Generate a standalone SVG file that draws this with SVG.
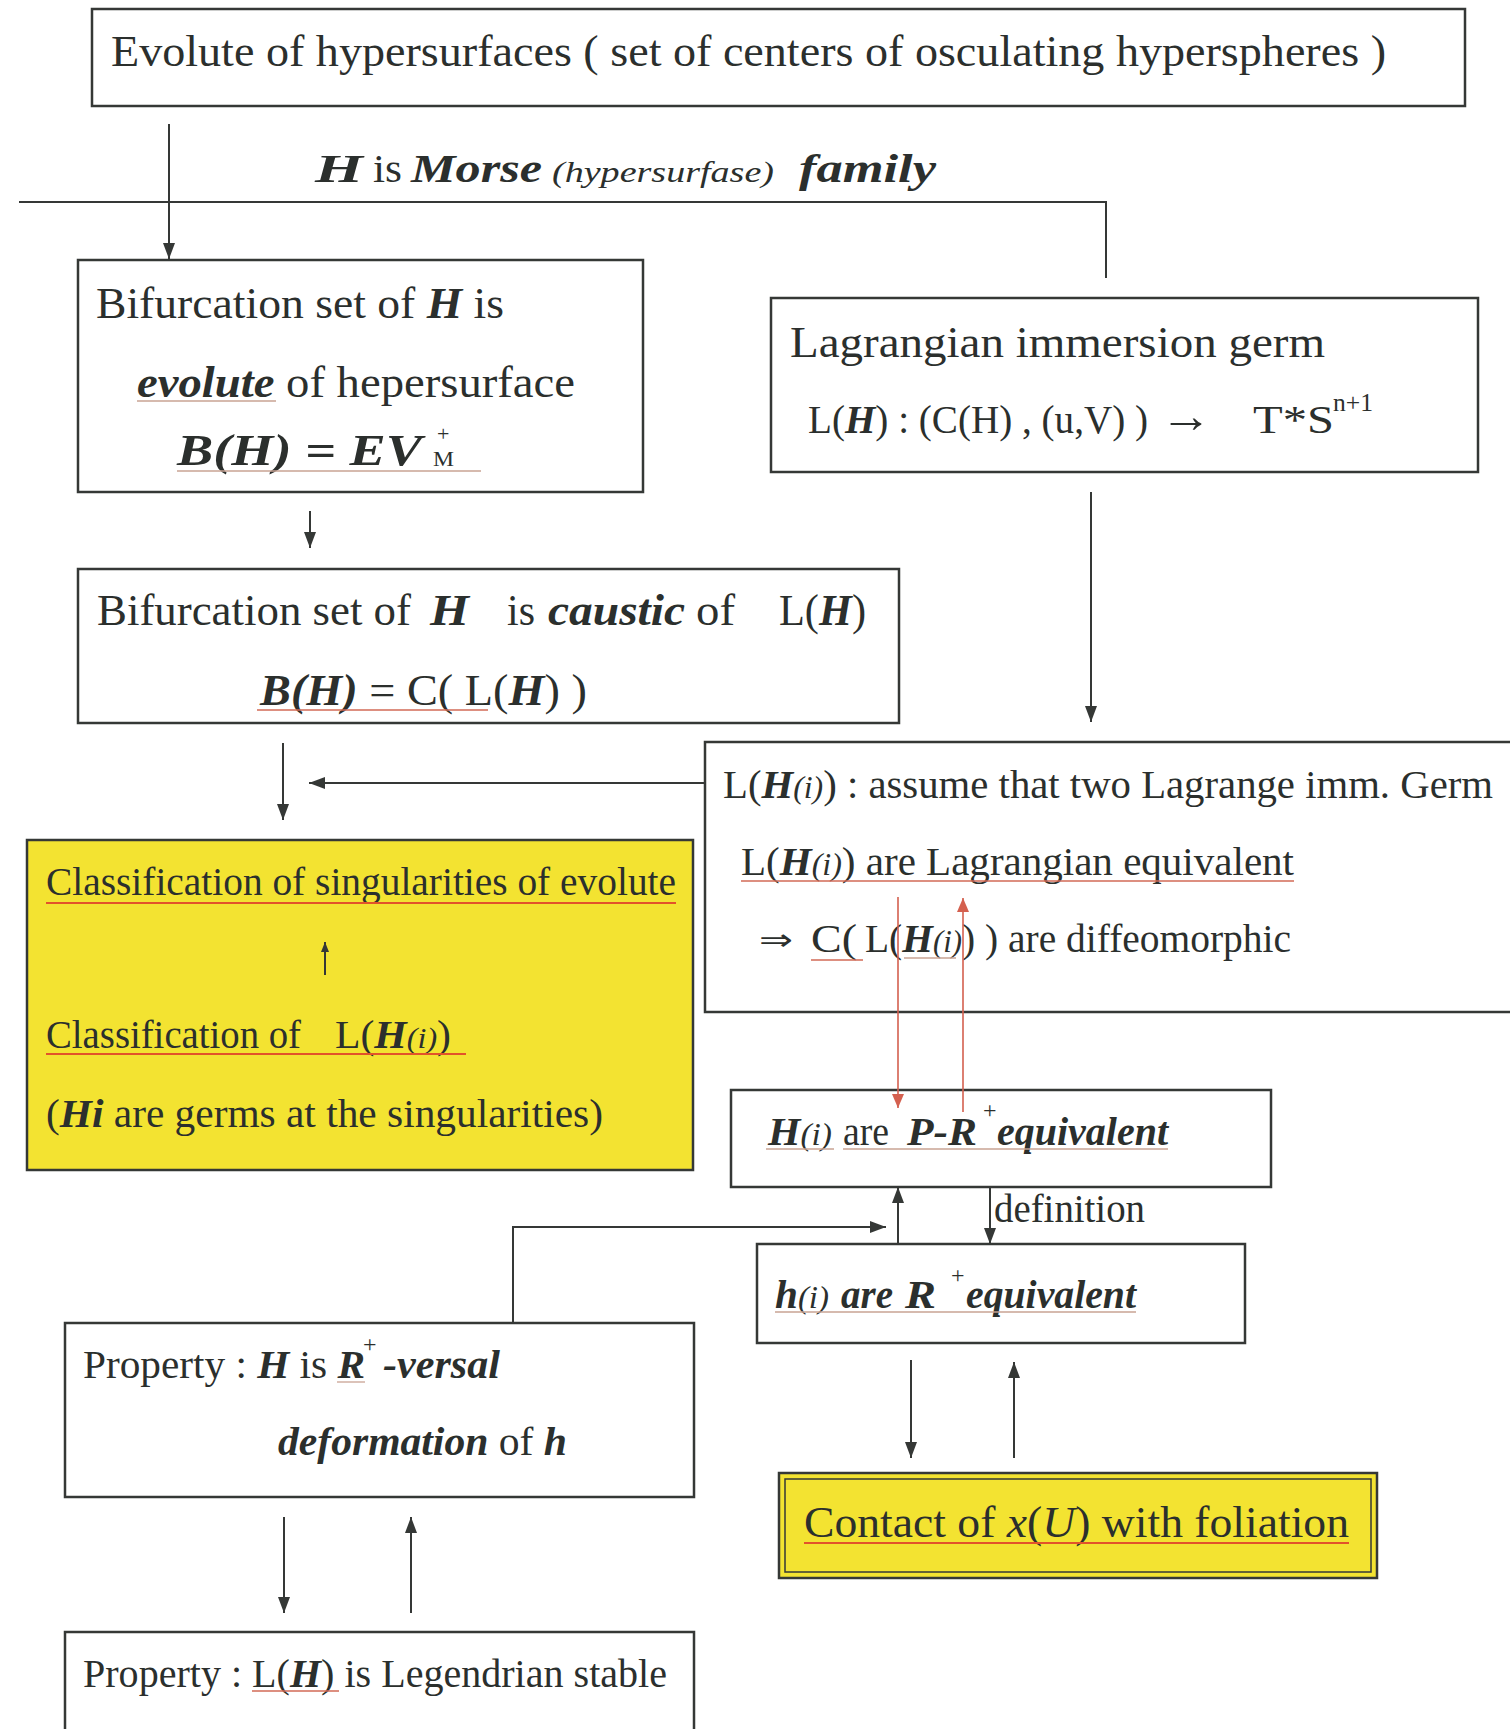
<svg xmlns="http://www.w3.org/2000/svg" width="1510" height="1729" viewBox="0 0 1510 1729">
<defs>
<style>
.t{font-family:"Liberation Serif","DejaVu Serif",serif;fill:#2b2f2d}
.bi{font-weight:bold;font-style:italic}
.it{font-style:italic}
.box{fill:#fff;stroke:#353836;stroke-width:2.5}
.yel{fill:#f3e331;stroke:#353836;stroke-width:2.5}
.c{fill:none;stroke:#353836;stroke-width:2}
.r{fill:none;stroke:#d4604f;stroke-width:1.6}
.ul{stroke:#d26a56;stroke-width:1.5}
.ulo{stroke:#e2532a;stroke-width:2}
.ult{stroke:#c9a393;stroke-width:1.3}
</style>
<marker id="ah" viewBox="0 0 16 12" refX="16" refY="6" markerWidth="16" markerHeight="12" markerUnits="userSpaceOnUse" orient="auto"><path d="M0,0 L16,6 L0,12 z" fill="#353836"/></marker>
<marker id="ahs" viewBox="0 0 10 8" refX="10" refY="4" markerWidth="10" markerHeight="8" markerUnits="userSpaceOnUse" orient="auto"><path d="M0,0 L10,4 L0,8 z" fill="#353836"/></marker>
<marker id="ahr" viewBox="0 0 14 12" refX="14" refY="6" markerWidth="14" markerHeight="12" markerUnits="userSpaceOnUse" orient="auto"><path d="M0,0 L14,6 L0,12 z" fill="#d4604f"/></marker>
</defs>
<rect width="1510" height="1729" fill="#fff"/>

<g id="node-evolute">
<rect class="box" x="92" y="9" width="1373" height="97"/>
<text class="t" x="111" y="66" font-size="44" textLength="1275" lengthAdjust="spacingAndGlyphs">Evolute of hypersurfaces ( set of centers of osculating hyperspheres )</text>
</g>

<g id="node-bifurcation-evolute">
<rect class="box" x="78" y="260" width="565" height="232"/>
<text class="t" x="96" y="318" font-size="45" textLength="408" lengthAdjust="spacingAndGlyphs">Bifurcation set of <tspan class="bi">H</tspan> is</text>
<text class="t" x="137" y="397" font-size="45" textLength="438" lengthAdjust="spacingAndGlyphs"><tspan class="bi">evolute</tspan> of hepersurface</text>
<line class="ult" x1="137" y1="401" x2="276" y2="401"/>
<text class="t bi" x="177" y="465" font-size="45" textLength="245" lengthAdjust="spacingAndGlyphs">B(H) = EV</text>
<text class="t" x="433" y="466" font-size="22" textLength="21" lengthAdjust="spacingAndGlyphs">M</text>
<text class="t" x="437" y="441" font-size="22">+</text>
<line class="ult" x1="177" y1="471" x2="481" y2="471"/>
</g>

<g id="node-lagrangian">
<rect class="box" x="771" y="298" width="707" height="174"/>
<text class="t" x="790" y="357" font-size="45" textLength="535" lengthAdjust="spacingAndGlyphs">Lagrangian immersion germ</text>
<text class="t" x="808" y="433" font-size="41" textLength="340" lengthAdjust="spacingAndGlyphs">L(<tspan class="bi">H</tspan>) : (C(H) , (u,V) )</text>
<text class="t" x="1160" y="432" font-size="48" font-weight="bold" textLength="52" lengthAdjust="spacingAndGlyphs">→</text>
<text class="t" x="1253" y="433" font-size="41" textLength="81" lengthAdjust="spacingAndGlyphs">T*S</text>
<text class="t" x="1333" y="411" font-size="26" textLength="40" lengthAdjust="spacingAndGlyphs">n+1</text>
</g>

<g id="node-bifurcation-caustic">
<rect class="box" x="78" y="569" width="821" height="154"/>
<text class="t" x="97" y="625" font-size="45" textLength="314" lengthAdjust="spacingAndGlyphs">Bifurcation set of</text>
<text class="t bi" x="430" y="625" font-size="45" textLength="39" lengthAdjust="spacingAndGlyphs">H</text>
<text class="t" x="507" y="625" font-size="45" textLength="28" lengthAdjust="spacingAndGlyphs">is</text>
<text class="t bi" x="548" y="625" font-size="45" textLength="137" lengthAdjust="spacingAndGlyphs">caustic</text>
<text class="t" x="696" y="625" font-size="45" textLength="39" lengthAdjust="spacingAndGlyphs">of</text>
<text class="t" x="779" y="625" font-size="45" textLength="87" lengthAdjust="spacingAndGlyphs">L(<tspan class="bi">H</tspan>)</text>
<text class="t" x="260" y="705" font-size="45" textLength="327" lengthAdjust="spacingAndGlyphs"><tspan class="bi">B(H)</tspan> = C( L(<tspan class="bi">H</tspan>) )</text>
<line class="ul" x1="257" y1="710" x2="488" y2="710"/>
</g>

<g id="node-lagrange-equivalence">
<rect class="box" x="705" y="742" width="820" height="270"/>
<text class="t" x="723" y="798" font-size="41" textLength="770" lengthAdjust="spacingAndGlyphs">L(<tspan class="bi">H</tspan><tspan class="it" font-size="32">(i)</tspan>) : assume that two Lagrange imm. Germ</text>
<text class="t" x="741" y="875" font-size="41" textLength="553" lengthAdjust="spacingAndGlyphs">L(<tspan class="bi">H</tspan><tspan class="it" font-size="32">(i)</tspan>) are Lagrangian equivalent</text>
<line class="ul" x1="741" y1="881" x2="1294" y2="881"/>
<text x="759" y="950" font-family="DejaVu Sans, sans-serif" font-size="30" fill="#2b2f2d" textLength="34" lengthAdjust="spacingAndGlyphs">⇒</text>
<text class="t" x="811" y="952" font-size="41" textLength="46" lengthAdjust="spacingAndGlyphs">C(</text>
<text class="t" x="865" y="952" font-size="41" textLength="426" lengthAdjust="spacingAndGlyphs">L(<tspan class="bi">H</tspan><tspan class="it" font-size="32">(i)</tspan>) ) are diffeomorphic</text>
<line class="ul" x1="811" y1="960" x2="863" y2="960" stroke-width="2"/>
<line class="ult" x1="904" y1="958" x2="956" y2="958"/>
</g>

<g id="node-classification">
<rect class="yel" x="27" y="840" width="666" height="330"/>
<text class="t" x="46" y="895" font-size="39" textLength="630" lengthAdjust="spacingAndGlyphs">Classification of singularities of evolute</text>
<line class="ulo" x1="46" y1="903" x2="676" y2="903"/>
<line class="c" x1="325" y1="975" x2="325" y2="942" stroke-width="1.5" marker-end="url(#ahs)"/>
<text class="t" x="46" y="1048" font-size="39" textLength="255" lengthAdjust="spacingAndGlyphs">Classification of</text>
<text class="t" x="335" y="1048" font-size="39" textLength="116" lengthAdjust="spacingAndGlyphs">L(<tspan class="bi">H</tspan><tspan class="it" font-size="30">(i)</tspan>)</text>
<line class="ulo" x1="46" y1="1054" x2="466" y2="1054"/>
<text class="t" x="46" y="1127" font-size="39" textLength="557" lengthAdjust="spacingAndGlyphs">(<tspan class="bi">Hi</tspan> are germs at the singularities)</text>
</g>

<g id="node-pr-equivalent">
<rect class="box" x="731" y="1090" width="540" height="97"/>
<text class="t" x="768" y="1145" font-size="40" textLength="64" lengthAdjust="spacingAndGlyphs"><tspan class="bi">H</tspan><tspan class="it" font-size="32">(i)</tspan></text>
<text class="t" x="843" y="1145" font-size="40" textLength="46" lengthAdjust="spacingAndGlyphs">are</text>
<text class="t bi" x="907" y="1145" font-size="40" textLength="70" lengthAdjust="spacingAndGlyphs">P-R</text>
<text class="t" x="983" y="1118" font-size="24">+</text>
<text class="t bi" x="997" y="1145" font-size="40" textLength="171" lengthAdjust="spacingAndGlyphs">equivalent</text>
<line class="ult" x1="766" y1="1149" x2="834" y2="1149"/>
<line class="ult" x1="843" y1="1149" x2="1168" y2="1149"/>
</g>

<g id="node-r-equivalent">
<rect class="box" x="757" y="1244" width="488" height="99"/>
<text class="t" x="775" y="1308" font-size="40" textLength="54" lengthAdjust="spacingAndGlyphs"><tspan class="bi">h</tspan><tspan class="it" font-size="32">(i)</tspan></text>
<text class="t bi" x="841" y="1308" font-size="40" textLength="52" lengthAdjust="spacingAndGlyphs">are</text>
<text class="t bi" x="905" y="1308" font-size="40" textLength="31" lengthAdjust="spacingAndGlyphs">R</text>
<text class="t" x="951" y="1283" font-size="24">+</text>
<text class="t bi" x="966" y="1308" font-size="40" textLength="170" lengthAdjust="spacingAndGlyphs">equivalent</text>
<line class="ult" x1="775" y1="1312" x2="1136" y2="1312"/>
</g>

<g id="node-versal">
<rect class="box" x="65" y="1323" width="629" height="174"/>
<text class="t" x="83" y="1378" font-size="41" textLength="282" lengthAdjust="spacingAndGlyphs">Property : <tspan class="bi">H</tspan> is <tspan class="bi">R</tspan></text>
<text class="t" x="363" y="1352" font-size="24">+</text>
<text class="t bi" x="383" y="1378" font-size="41" textLength="117" lengthAdjust="spacingAndGlyphs">-versal</text>
<line class="ult" x1="337" y1="1382" x2="365" y2="1382"/>
<text class="t" x="278" y="1455" font-size="41" textLength="289" lengthAdjust="spacingAndGlyphs"><tspan class="bi">deformation</tspan> of <tspan class="bi">h</tspan></text>
</g>

<g id="node-legendrian">
<rect class="box" x="65" y="1632" width="629" height="120"/>
<text class="t" x="83" y="1687" font-size="41" textLength="584" lengthAdjust="spacingAndGlyphs">Property : L(<tspan class="bi">H</tspan>) is Legendrian stable</text>
<line class="ul" x1="252" y1="1691" x2="339" y2="1691"/>
</g>

<g id="node-contact">
<rect class="yel" x="779" y="1473" width="598" height="105" stroke-width="3.5"/>
<rect x="785" y="1479" width="586" height="93" fill="none" stroke="#353836" stroke-width="1.5"/>
<text class="t" x="804" y="1537" font-size="44" textLength="545" lengthAdjust="spacingAndGlyphs">Contact of <tspan class="it">x</tspan>(<tspan class="it">U</tspan>) with foliation</text>
<line class="ulo" x1="804" y1="1543" x2="1349" y2="1543"/>
</g>

<g id="connectors">
<line class="c" x1="169" y1="124" x2="169" y2="259" marker-end="url(#ah)"/>
<polyline class="c" points="19,202 1106,202 1106,278" stroke-width="2.5"/>
<line class="c" x1="310" y1="511" x2="310" y2="548" marker-end="url(#ah)"/>
<line class="c" x1="1091" y1="492" x2="1091" y2="722" marker-end="url(#ah)"/>
<line class="c" x1="705" y1="783" x2="309" y2="783" marker-end="url(#ah)"/>
<line class="c" x1="283" y1="743" x2="283" y2="820" marker-end="url(#ah)"/>
<line class="r" x1="898" y1="897" x2="898" y2="1108" marker-end="url(#ahr)"/>
<line class="r" x1="963" y1="1112" x2="963" y2="898" marker-end="url(#ahr)"/>
<line class="c" x1="898" y1="1244" x2="898" y2="1187" marker-end="url(#ah)"/>
<line class="c" x1="990" y1="1187" x2="990" y2="1244" marker-end="url(#ah)"/>
<polyline class="c" points="513,1323 513,1227 886,1227" marker-end="url(#ah)"/>
<line class="c" x1="911" y1="1360" x2="911" y2="1458" marker-end="url(#ah)"/>
<line class="c" x1="1014" y1="1458" x2="1014" y2="1362" marker-end="url(#ah)"/>
<line class="c" x1="284" y1="1517" x2="284" y2="1613" marker-end="url(#ah)"/>
<line class="c" x1="411" y1="1613" x2="411" y2="1517" marker-end="url(#ah)"/>
<text class="t" x="994" y="1222" font-size="39" textLength="151" lengthAdjust="spacingAndGlyphs">definition</text>
<text class="t" x="315" y="182" font-size="40" textLength="48" lengthAdjust="spacingAndGlyphs"><tspan class="bi">H</tspan></text>
<text class="t" x="373" y="182" font-size="40" textLength="29" lengthAdjust="spacingAndGlyphs">is</text>
<text class="t it" x="411" y="182" font-size="40" font-weight="bold" textLength="131" lengthAdjust="spacingAndGlyphs">Morse</text>
<text class="t it" x="552" y="182" font-size="30" textLength="222" lengthAdjust="spacingAndGlyphs">(hypersurfase)</text>
<text class="t bi" x="799" y="182" font-size="40" textLength="137" lengthAdjust="spacingAndGlyphs">family</text>
</g>
</svg>
